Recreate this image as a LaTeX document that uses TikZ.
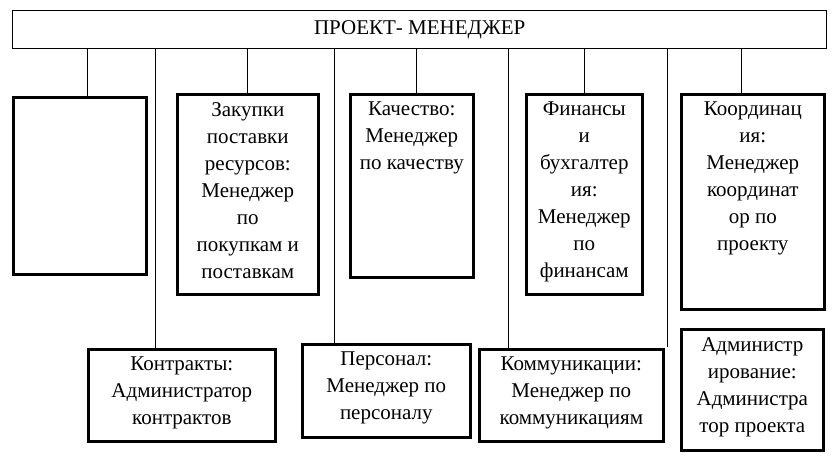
\documentclass[tikz,border=0pt]{standalone}
\usepackage{fontspec}
\setmainfont{Liberation Serif}
\begin{document}
\begin{tikzpicture}[x=1pt,y=-1pt,
  bx/.style={draw,line width=2.6pt,anchor=north west,inner sep=0pt},
  tx/.style={anchor=north,align=center,font=\fontsize{21}{27}\selectfont,inner sep=0pt},
  ln/.style={line width=0.8pt}]
\useasboundingbox (0,0) rectangle (837,456);
\node[draw,line width=1.4pt,anchor=north west,minimum width=814pt,minimum height=38pt,inner sep=0pt,font=\fontsize{21}{23}\selectfont] (pm) at (12,10) {ПРОЕКТ- МЕНЕДЖЕР};
\newcommand{\bxx}[6]{\node[bx,minimum width=#4pt,minimum height=#5pt] (#1) at (#2,#3) {};
  \node[tx] (#1t) at ([yshift=-9pt]#1.north) {#6};}
\bxx{b1}{12}{96}{133}{177}{}
\bxx{b2}{176}{93}{141}{200}{Закупки\\поставки\\ресурсов:\\Менеджер\\по\\покупкам и\\поставкам}
\bxx{b3}{349}{93}{123}{183}{Качество:\\Менеджер\\по качеству}
\bxx{b4}{525}{93}{116}{200}{Финансы\\и\\бухгалтер\\ия:\\Менеджер\\по\\финансам}
\bxx{b5}{680}{93}{143}{215}{Координац\\ия:\\Менеджер\\координат\\ор по\\проекту}
\bxx{b6}{87}{348}{187}{92}{Контракты:\\Администратор\\контрактов}
\bxx{b7}{301}{343}{168}{93}{Персонал:\\Менеджер по\\персоналу}
\bxx{b8}{478}{348}{184}{92}{Коммуникации:\\Менеджер по\\коммуникациям}
\bxx{b9}{680}{328}{142}{121}{Администр\\ирование:\\Администра\\тор проекта}
\draw[ln] (87,48) -- (b1.north -| 87,0);
\draw[ln] (pm.south -| b2.north) -- (b2.north);
\draw[ln] (pm.south -| 416,0) -- (b3.north -| 416,0);
\draw[ln] (pm.south -| b4.north) -- (b4.north);
\draw[ln] (pm.south -| 741,0) -- (b5.north -| 741,0);
\draw[ln] (pm.south -| 155,0) -- (b6.north -| 155,0);
\draw[ln] (pm.south -| 334,0) -- (b7.north -| 334,0);
\draw[ln] (pm.south -| 508,0) -- (b8.north -| 508,0);
\coordinate (e9) at (667,347);
\draw[ln] (pm.south -| e9) -- (e9);
\end{tikzpicture}
\end{document}
